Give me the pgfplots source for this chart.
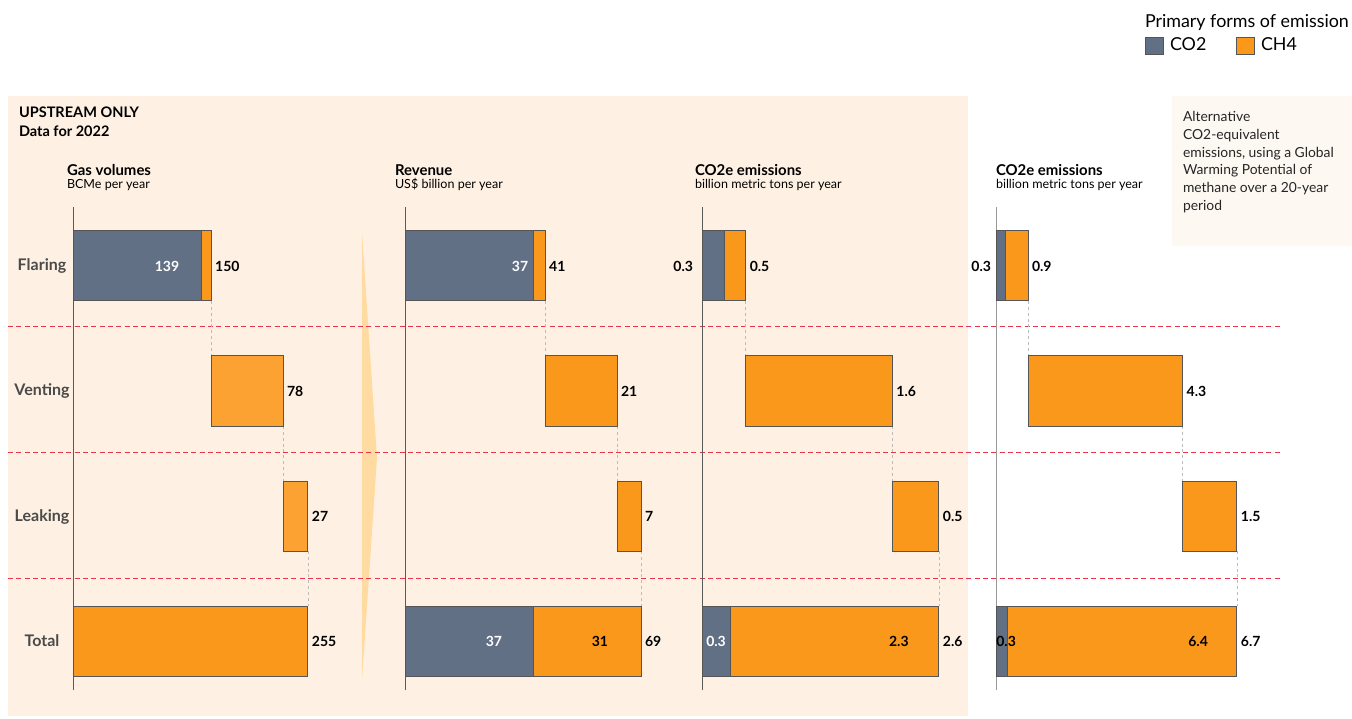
\documentclass[border=0pt]{standalone}
\usepackage{pgfplots}
\pgfplotsset{compat=1.18}
\usepackage{fontspec}
\setmainfont{Lato}
\definecolor{co2}{HTML}{627085}
\definecolor{ch4}{HTML}{FA981C}
\definecolor{ch4l}{HTML}{FCA233}
\definecolor{bord}{HTML}{555555}
\definecolor{peach}{HTML}{FEF1E3}
\definecolor{notebg}{HTML}{FEF8F2}
\definecolor{chev}{HTML}{FFDBA2}
\definecolor{sep}{HTML}{E8344A}
\definecolor{catc}{HTML}{4A4A4A}
\definecolor{axc}{HTML}{5A5A5A}
\definecolor{conn}{HTML}{BBBBBB}
\newcommand{\ptitle}{\fontsize{11.2}{13}\selectfont\bfseries}
\newcommand{\phead}{\fontsize{10.9}{13}\selectfont\bfseries}
\newcommand{\psub}{\fontsize{9.4}{11}\selectfont}
\newcommand{\pval}{\fontsize{10.5}{12}\selectfont\bfseries}
\newcommand{\pcat}{\fontsize{12}{14}\selectfont\bfseries\color{catc}}
\newcommand{\pleg}{\fontsize{13.4}{15}\selectfont}
\newcommand{\pnote}{\fontsize{10.4}{12}\selectfont\color{black!85}}
\pgfplotsset{panel/.style={
  xbar stacked, scale only axis, height=362.25pt, xmin=0, ymin=-0.392, ymax=3.472,
  enlargelimits=false, clip=false, axis x line=none, axis y line=left,
  axis line style={-, draw=axc, line width=0.75pt}, ytick=\empty, xtick=\empty,
  bar width=0.56, anchor=south west,
  every axis plot/.append style={line width=0.75pt}
}}
\tikzset{t/.style={inner sep=0pt, outer sep=0pt},
  cn/.style={draw=conn, line width=0.6pt, dash pattern=on 2.2pt off 2.2pt}}
\begin{document}
\begin{tikzpicture}[x=0.75pt,y=0.75pt]
\useasboundingbox (0,0) rectangle (1352,718);
\fill[peach] (8,2) rectangle (968,622);
\fill[notebg] (1172,472) rectangle (1352,622);
\fill[chev] (362,486) -- (377,260) -- (362,38) -- cycle;
\foreach \yy in {327,453,578}
  \draw[sep, line width=0.75pt, dash pattern=on 3.75pt off 2.5pt] (8,718-\yy) -- (1280,718-\yy);
% header
\node[t, anchor=base west, font=\phead] at (19,718-118) {UPSTREAM ONLY};
\node[t, anchor=base west, font=\phead] at (19,718-137) {Data for 2022};
% panel titles
\node[t, anchor=base west, font=\ptitle] at (67,718-176) {Gas volumes};
\node[t, anchor=base west, font=\psub] at (67,718-189) {BCMe per year};
\node[t, anchor=base west, font=\ptitle] at (395,718-176) {Revenue};
\node[t, anchor=base west, font=\psub] at (395,718-189) {US\$ billion per year};
\node[t, anchor=base west, font=\ptitle] at (695,718-176) {CO2e emissions};
\node[t, anchor=base west, font=\psub] at (695,718-189) {billion metric tons per year};
\node[t, anchor=base west, font=\ptitle] at (996,718-176) {CO2e emissions};
\node[t, anchor=base west, font=\psub] at (996,718-189) {billion metric tons per year};
% legend
\node[t, anchor=base west, font=\pleg] at (1145,718-28) {Primary forms of emission};
\filldraw[fill=co2, draw=bord, line width=0.5pt] (1145,718-54) rectangle (1163,718-37);
\node[t, anchor=base west, font=\pleg] at (1170,718-51) {CO2};
\filldraw[fill=ch4, draw=bord, line width=0.5pt] (1236,718-54) rectangle (1254,718-37);
\node[t, anchor=base west, font=\pleg] at (1261,718-51) {CH4};
% note
\node[t, anchor=base west, font=\pnote] at (1183,718-122) {Alternative};
\node[t, anchor=base west, font=\pnote] at (1183,718-140) {CO2-equivalent};
\node[t, anchor=base west, font=\pnote] at (1183,718-157.5) {emissions, using a Global};
\node[t, anchor=base west, font=\pnote] at (1183,718-175) {Warming Potential of};
\node[t, anchor=base west, font=\pnote] at (1183,718-193) {methane over a 20-year};
\node[t, anchor=base west, font=\pnote] at (1183,718-210.5) {period};

% ---------- Panel 1: Gas volumes ----------
\begin{axis}[panel, at={(54.75pt,21pt)}, width=193.5pt, xmax=280]
\addplot[draw=none, fill=none] coordinates {(0,3) (150,2) (228,1) (0,0)};
\addplot[fill=co2, draw=bord] coordinates {(139,3) (0,2) (0,1) (0,0)};
\addplot[fill=ch4, draw=bord] coordinates {(11,3) (0,2) (0,1) (255,0)};
\addplot[fill=ch4l, draw=bord] coordinates {(0,3) (78,2) (27,1) (0,0)};
\draw[cn] (axis cs:150,2.72) -- (axis cs:150,2.28);
\draw[cn] (axis cs:228,1.72) -- (axis cs:228,1.28);
\draw[cn] (axis cs:255,0.72) -- (axis cs:255,0.28);
\coordinate (a3) at (axis cs:0,3); \coordinate (a2) at (axis cs:0,2);
\coordinate (a1) at (axis cs:0,1); \coordinate (a0) at (axis cs:0,0);
\coordinate (p1i) at (axis cs:102,3);
\coordinate (p1a) at (axis cs:150,3); \coordinate (p1b) at (axis cs:228,2);
\coordinate (p1c) at (axis cs:255,1); \coordinate (p1d) at (axis cs:255,0);
\end{axis}

% ---------- Panel 2: Revenue ----------
\begin{axis}[panel, at={(303.75pt,21pt)}, width=192.4pt, xmax=75]
\addplot[draw=none, fill=none] coordinates {(0,3) (41,2) (62,1) (0,0)};
\addplot[fill=co2, draw=bord] coordinates {(37.7,3) (0,2) (0,1) (37.7,0)};
\addplot[fill=ch4, draw=bord] coordinates {(3.3,3) (21,2) (7,1) (31.3,0)};
\draw[cn] (axis cs:41,2.72) -- (axis cs:41,2.28);
\draw[cn] (axis cs:62,1.72) -- (axis cs:62,1.28);
\draw[cn] (axis cs:69,0.72) -- (axis cs:69,0.28);
\coordinate (p2i) at (axis cs:36,3); \coordinate (p2j) at (axis cs:26,0);
\coordinate (p2k) at (axis cs:57,0);
\coordinate (p2a) at (axis cs:41,3); \coordinate (p2b) at (axis cs:62,2);
\coordinate (p2c) at (axis cs:69,1); \coordinate (p2d) at (axis cs:69,0);
\end{axis}

% ---------- Panel 3: CO2e (100-yr) ----------
\begin{axis}[panel, at={(526.5pt,21pt)}, width=191.4pt, xmax=2.8]
\addplot[draw=none, fill=none] coordinates {(0,3) (0.48,2) (2.09,1) (0,0)};
\addplot[fill=co2, draw=bord] coordinates {(0.25,3) (0,2) (0,1) (0.31,0)};
\addplot[fill=ch4, draw=bord] coordinates {(0.23,3) (1.61,2) (0.51,1) (2.29,0)};
\draw[cn] (axis cs:0.48,2.72) -- (axis cs:0.48,2.28);
\draw[cn] (axis cs:2.09,1.72) -- (axis cs:2.09,1.28);
\draw[cn] (axis cs:2.6,0.72) -- (axis cs:2.6,0.28);
\coordinate (p3o) at (axis cs:0,3);
\coordinate (p3j) at (axis cs:0.154,0); \coordinate (p3k) at (axis cs:2.16,0);
\coordinate (p3a) at (axis cs:0.48,3); \coordinate (p3b) at (axis cs:2.09,2);
\coordinate (p3c) at (axis cs:2.6,1); \coordinate (p3d) at (axis cs:2.6,0);
\end{axis}

% ---------- Panel 4: CO2e (20-yr GWP) ----------
\begin{axis}[panel, at={(747pt,21pt)}, width=188.8pt, xmax=7, axis line style={draw=black!40}]
\addplot[draw=none, fill=none] coordinates {(0,3) (0.89,2) (5.19,1) (0,0)};
\addplot[fill=co2, draw=bord] coordinates {(0.25,3) (0,2) (0,1) (0.33,0)};
\addplot[fill=ch4, draw=bord] coordinates {(0.64,3) (4.3,2) (1.51,1) (6.37,0)};
\draw[cn] (axis cs:0.89,2.72) -- (axis cs:0.89,2.28);
\draw[cn] (axis cs:5.19,1.72) -- (axis cs:5.19,1.28);
\draw[cn] (axis cs:6.7,0.72) -- (axis cs:6.7,0.28);
\coordinate (p4o) at (axis cs:0,3);
\coordinate (p4j) at (axis cs:0.28,0); \coordinate (p4k) at (axis cs:5.62,0);
\coordinate (p4a) at (axis cs:0.89,3); \coordinate (p4b) at (axis cs:5.19,2);
\coordinate (p4c) at (axis cs:6.7,1); \coordinate (p4d) at (axis cs:6.7,0);
\end{axis}

% ---------- labels (on top of the bars) ----------
\begin{scope}[every node/.style={t}]
\node[font=\pcat, anchor=base] at ([xshift=-23.25pt, yshift=-3.75pt]a3) {Flaring};
\node[font=\pcat, anchor=base] at ([xshift=-23.25pt, yshift=-3.75pt]a2) {Venting};
\node[font=\pcat, anchor=base] at ([xshift=-23.25pt, yshift=-3.75pt]a1) {Leaking};
\node[font=\pcat, anchor=base] at ([xshift=-23.25pt, yshift=-3.75pt]a0) {Total};
\node[font=\pval, text=white] at (p1i) {139};
\node[font=\pval, anchor=west] at ([xshift=3pt]p1a) {150};
\node[font=\pval, anchor=west] at ([xshift=3pt]p1b) {78};
\node[font=\pval, anchor=west] at ([xshift=3pt]p1c) {27};
\node[font=\pval, anchor=west] at ([xshift=3pt]p1d) {255};

\node[font=\pval, text=white, anchor=east] at (p2i) {37};
\node[font=\pval, text=white] at (p2j) {37};
\node[font=\pval] at (p2k) {31};
\node[font=\pval, anchor=west] at ([xshift=3pt]p2a) {41};
\node[font=\pval, anchor=west] at ([xshift=3pt]p2b) {21};
\node[font=\pval, anchor=west] at ([xshift=3pt]p2c) {7};
\node[font=\pval, anchor=west] at ([xshift=3pt]p2d) {69};

\node[font=\pval, anchor=east] at ([xshift=-6.75pt]p3o) {0.3};
\node[font=\pval, text=white] at (p3j) {0.3};
\node[font=\pval] at (p3k) {2.3};
\node[font=\pval, anchor=west] at ([xshift=3pt]p3a) {0.5};
\node[font=\pval, anchor=west] at ([xshift=3pt]p3b) {1.6};
\node[font=\pval, anchor=west] at ([xshift=3pt]p3c) {0.5};
\node[font=\pval, anchor=west] at ([xshift=3pt]p3d) {2.6};

\node[font=\pval, anchor=east] at ([xshift=-3.75pt]p4o) {0.3};
\node[font=\pval] at (p4j) {0.3};
\node[font=\pval] at (p4k) {6.4};
\node[font=\pval, anchor=west] at ([xshift=3pt]p4a) {0.9};
\node[font=\pval, anchor=west] at ([xshift=3pt]p4b) {4.3};
\node[font=\pval, anchor=west] at ([xshift=3pt]p4c) {1.5};
\node[font=\pval, anchor=west] at ([xshift=3pt]p4d) {6.7};
\end{scope}
\end{tikzpicture}
\end{document}
